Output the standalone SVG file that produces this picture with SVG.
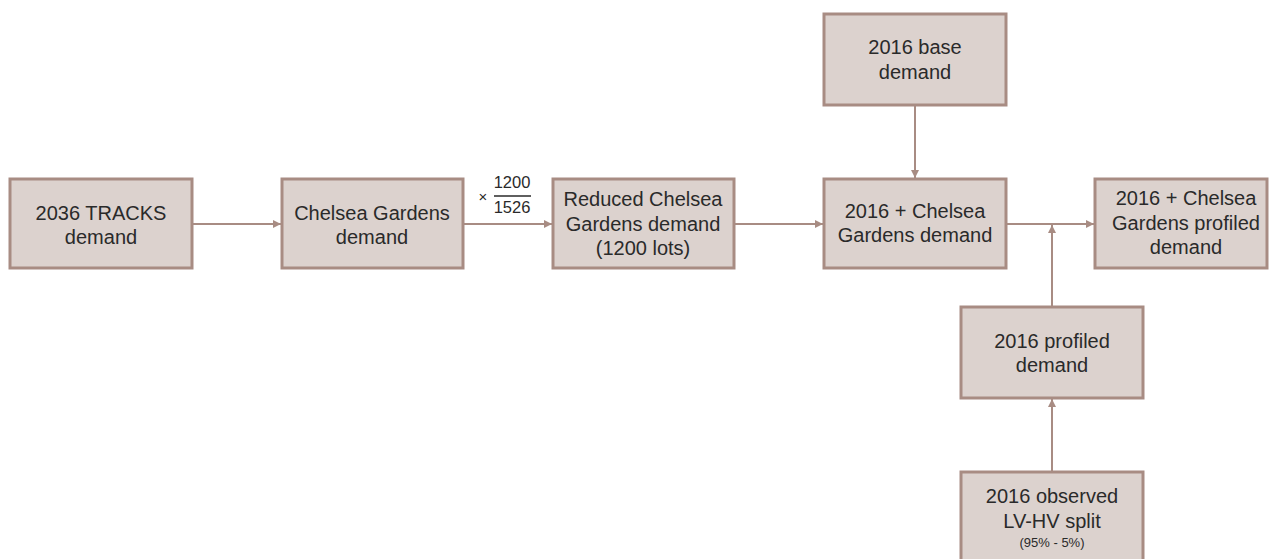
<svg xmlns="http://www.w3.org/2000/svg" width="1269" height="559" viewBox="0 0 1269 559">
<style>
.box{fill:#dcd2ce;stroke:#a88c83;stroke-width:3}
.t{font-family:"Liberation Sans",Arial,sans-serif;font-size:20px;fill:#2a2a2a;text-anchor:middle}
.s{font-family:"Liberation Sans",Arial,sans-serif;font-size:13px;fill:#2a2a2a;text-anchor:middle}
.f{font-family:"Liberation Sans",Arial,sans-serif;font-size:16.5px;fill:#2a2a2a;text-anchor:middle}
.c{stroke:#a88c83;stroke-width:2;fill:none}
</style>
<defs>
<marker id="ah" viewBox="0 0 10 10" refX="10" refY="5" markerWidth="8" markerHeight="8" orient="auto" markerUnits="userSpaceOnUse">
<path d="M0,0 L10,5 L0,10 z" fill="#a88c83"/>
</marker>
</defs>
<rect width="1269" height="559" fill="#fff"/>
<g id="connectors">
<line class="c" x1="192" y1="224" x2="281" y2="224" marker-end="url(#ah)"/>
<line class="c" x1="463" y1="224" x2="552" y2="224" marker-end="url(#ah)"/>
<line class="c" x1="734" y1="224" x2="823" y2="224" marker-end="url(#ah)"/>
<line class="c" x1="915" y1="106" x2="915" y2="178" marker-end="url(#ah)"/>
<line class="c" x1="1007" y1="224" x2="1094" y2="224" marker-end="url(#ah)"/>
<line class="c" x1="1052" y1="306" x2="1052" y2="225" marker-end="url(#ah)"/>
<line class="c" x1="1052" y1="471" x2="1052" y2="399" marker-end="url(#ah)"/>
<g id="fraction">
<text class="t" x="483" y="202" style="font-size:15px">×</text>
<text class="f" x="512" y="188">1200</text>
<line x1="494" y1="196" x2="531" y2="196" stroke="#2a2a2a" stroke-width="1.3"/>
<text class="f" x="512" y="213">1526</text>
</g>
</g>
<g id="n1"><rect class="box" x="10" y="179" width="182" height="89"/>
<text class="t" x="101" y="220">2036 TRACKS</text><text class="t" x="101" y="244">demand</text></g>
<g id="n2"><rect class="box" x="282" y="179" width="181" height="89"/>
<text class="t" x="372" y="220">Chelsea Gardens</text><text class="t" x="372" y="244">demand</text></g>
<g id="n3"><rect class="box" x="553" y="179" width="181" height="89"/>
<text class="t" x="643" y="206">Reduced Chelsea</text><text class="t" x="643" y="231">Gardens demand</text><text class="t" x="643" y="255">(1200 lots)</text></g>
<g id="n4"><rect class="box" x="824" y="14" width="182" height="91"/>
<text class="t" x="915" y="54">2016 base</text><text class="t" x="915" y="79">demand</text></g>
<g id="n5"><rect class="box" x="824" y="179" width="182" height="89"/>
<text class="t" x="915" y="218">2016 + Chelsea</text><text class="t" x="915" y="242">Gardens demand</text></g>
<g id="n6"><rect class="box" x="1095" y="179" width="172" height="89"/>
<text class="t" x="1186" y="205">2016 + Chelsea</text><text class="t" x="1186" y="230">Gardens profiled</text><text class="t" x="1186" y="254">demand</text></g>
<g id="n7"><rect class="box" x="961" y="307" width="182" height="91"/>
<text class="t" x="1052" y="348">2016 profiled</text><text class="t" x="1052" y="372">demand</text></g>
<g id="n8"><rect class="box" x="961" y="472" width="182" height="95"/>
<text class="t" x="1052" y="503">2016 observed</text><text class="t" x="1052" y="528">LV-HV split</text><text class="s" x="1052" y="547">(95% - 5%)</text></g>
</svg>
